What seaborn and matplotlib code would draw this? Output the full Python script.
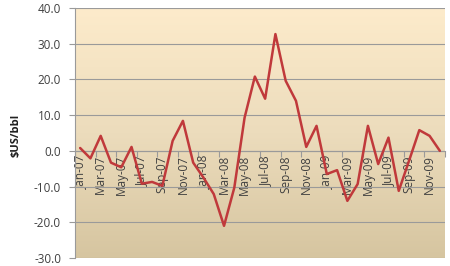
import numpy as np
import pandas as pd
import matplotlib
matplotlib.use("Agg")
import matplotlib.pyplot as plt
import seaborn as sns
from matplotlib.colors import LinearSegmentedColormap

months = ["Jan-07","Feb-07","Mar-07","Apr-07","May-07","Jun-07","Jul-07","Aug-07","Sep-07","Oct-07","Nov-07","Dec-07",
          "Jan-08","Feb-08","Mar-08","Apr-08","May-08","Jun-08","Jul-08","Aug-08","Sep-08","Oct-08","Nov-08","Dec-08",
          "Jan-09","Feb-09","Mar-09","Apr-09","May-09","Jun-09","Jul-09","Aug-09","Sep-09","Oct-09","Nov-09","Dec-09"]
values = [0.8, -2.1, 4.2, -3.3, -4.6, 1.1, -9.2, -8.7, -9.8, 2.8, 8.4, -3.3,
          -7.5, -12.1, -21.0, -10.3, 9.3, 20.8, 14.6, 32.7, 19.6, 14.0, 1.1, 7.0,
          -6.5, -5.4, -14.0, -9.3, 7.0, -3.7, 3.7, -11.2, -2.8, 5.8, 4.2, 0.0]
y_ticks = [-30, -20, -10, 0, 10, 20, 30, 40]
y_label = "$US/bbl"

df = pd.DataFrame({"idx": np.arange(len(months)), "value": values})

sns.set_theme(style="white")
plt.rcParams['font.family'] = ['Open Sans', 'DejaVu Sans']

fig = plt.figure(figsize=(4.5, 2.66), dpi=100)
ax = fig.add_axes([75/450, 1-258/266, 370/450, 250/266])

n = len(months)

# gradient background
cmap = LinearSegmentedColormap.from_list("bg", ["#d6c5a0", "#ecdcbc", "#fdebcb"])
grad = np.linspace(0, 1, 256).reshape(-1, 1)
ax.imshow(grad, extent=[-0.5, n - 0.5, -30, 40], origin="lower", cmap=cmap,
          aspect="auto", zorder=0)

for yv in y_ticks:
    ax.axhline(yv, color="#9a9a9a", lw=0.8, zorder=1)

sns.lineplot(data=df, x="idx", y="value", ax=ax, color="#c0393b", lw=1.8, zorder=3)

ax.set_xlim(-0.5, n - 0.5)
ax.set_ylim(-30, 40)

ax.set_yticks(y_ticks)
ax.set_yticklabels([f"{v:.1f}" for v in y_ticks])
ax.tick_params(axis="y", length=4, width=0.8, color="#9a9a9a", pad=6, left=True,
               labelsize=8.5, labelcolor="#404040")

# x: ticks at boundaries, labels at category centres (every other month)
ax.set_xticks(np.arange(-0.5, n, 2))
ax.set_xticklabels([])
ax.set_xticks(np.arange(0, n, 2), minor=True)
ax.set_xticklabels(months[::2], minor=True)
ax.tick_params(axis="x", which="major", length=4, width=0.8, color="#9a9a9a",
               bottom=True, direction="out")
ax.tick_params(axis="x", which="minor", length=0, pad=3, bottom=True,
               labelrotation=90, labelsize=8.5, labelcolor="#404040")

ax.spines["bottom"].set_position(("data", 0))
ax.spines["bottom"].set_color("#9a9a9a")
ax.spines["bottom"].set_linewidth(0.8)
ax.spines["left"].set_color("#9a9a9a")
ax.spines["left"].set_linewidth(0.8)
ax.spines["top"].set_visible(False)
ax.spines["right"].set_visible(False)

ax.set_xlabel("")
ax.set_ylabel("")
fig.text(16/450, 1-135/266, y_label, rotation=90, ha="center", va="center",
         fontsize=8, fontweight="bold", color="#202020")

fig.savefig("out.png", dpi=100)
